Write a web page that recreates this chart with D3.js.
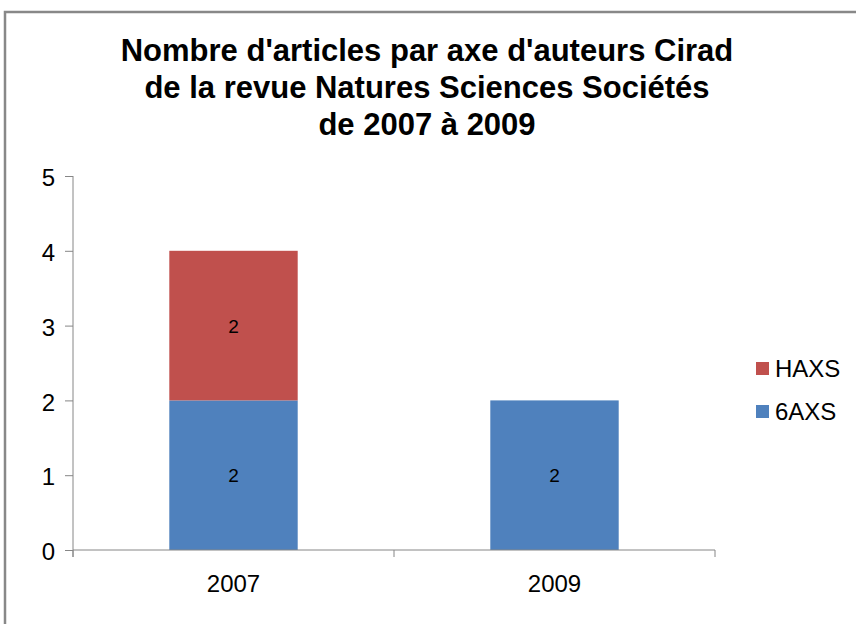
<!DOCTYPE html>
<html>
<head>
<meta charset="utf-8">
<script src="https://cdn.jsdelivr.net/npm/d3@7"></script>
<style>
  body { margin: 0; background: #fff; }
  svg { font-family: "Liberation Sans", Arial, sans-serif; }
</style>
</head>
<body>
<svg width="856" height="624"></svg>
<script>
const years = ["2007", "2009"];
const seriesNames = ["6AXS", "HAXS"];
const values6AXS = [2, 2];
const valuesHAXS = [2, 0];
const yTicks = [0, 1, 2, 3, 4, 5];
const titleLines = ["Nombre d'articles par axe d'auteurs Cirad", "de la revue Natures Sciences Sociétés", "de 2007 à 2009"];
const colors = { "6AXS": "#4F81BD", "HAXS": "#C0504D" };

const svg = d3.select("svg");
const font = "Liberation Sans, Arial, sans-serif";

// chart frame (runs past the window on the right and bottom)
svg.append("rect")
    .attr("x", 5).attr("y", 12)
    .attr("width", 900).attr("height", 700)
    .attr("fill", "#fff")
    .attr("stroke", "#888").attr("stroke-width", 2.5);

const table = years.map((y, i) => ({ year: y, "6AXS": values6AXS[i], "HAXS": valuesHAXS[i] }));
const stacked = d3.stack().keys(seriesNames)(table);

const x = d3.scaleBand().domain(years).range([73, 715]).paddingInner(0.6).paddingOuter(0.3);
const y = d3.scaleLinear().domain([0, 5]).range([550, 176]);

// title
svg.append("text")
    .attr("text-anchor", "middle")
    .attr("font-weight", "bold")
    .attr("font-size", 31)
    .attr("fill", "#000")
  .selectAll("tspan")
  .data(titleLines)
  .enter().append("tspan")
    .attr("x", 427)
    .attr("y", (d, i) => 61 + i * 37)
    .text(d => d);

// bars
const layers = svg.append("g").selectAll("g")
  .data(stacked)
  .enter().append("g")
    .attr("fill", d => colors[d.key]);

layers.selectAll("rect")
  .data(d => d.filter(s => s[1] - s[0] > 0))
  .enter().append("rect")
    .attr("x", d => x(d.data.year))
    .attr("y", d => y(d[1]))
    .attr("width", x.bandwidth())
    .attr("height", d => y(d[0]) - y(d[1]));

layers.selectAll("text")
  .data(d => d.filter(s => s[1] - s[0] > 0))
  .enter().append("text")
    .attr("x", d => x(d.data.year) + x.bandwidth() / 2)
    .attr("y", d => y((d[0] + d[1]) / 2) + 7)
    .attr("text-anchor", "middle")
    .attr("font-size", 19)
    .attr("fill", "#000")
    .text(d => d[1] - d[0]);

// y axis
const yAxis = svg.append("g")
    .attr("transform", "translate(73,0)")
    .call(d3.axisLeft(y).tickValues(yTicks).tickFormat(d3.format("d"))
      .tickSize(8).tickPadding(10).tickSizeOuter(0));
yAxis.select(".domain").attr("stroke", "#868686").attr("d", "M0,176V557");
yAxis.selectAll(".tick line").attr("stroke", "#868686");
yAxis.selectAll(".tick text").attr("font-size", 24).attr("fill", "#000")
    .attr("font-family", font).attr("dy", "0.4em");

// x axis
const xAxis = svg.append("g")
    .attr("transform", "translate(0,550)")
    .call(d3.axisBottom(x).tickSize(0).tickPadding(25));
xAxis.select(".domain").attr("stroke", "#868686").attr("d", "M73,0H715");
xAxis.selectAll(".tick text").attr("font-size", 24).attr("fill", "#000")
    .attr("font-family", font);
xAxis.selectAll(".sep")
  .data([x.range()[0], (x(years[0]) + x.bandwidth() + x(years[1])) / 2, x.range()[1]])
  .enter().append("line")
    .attr("class", "sep")
    .attr("x1", d => d).attr("x2", d => d)
    .attr("y1", 0).attr("y2", 7)
    .attr("stroke", "#868686");

// legend
const legendItems = ["HAXS", "6AXS"];
const legend = svg.append("g").selectAll("g")
  .data(legendItems)
  .enter().append("g")
    .attr("transform", (d, i) => `translate(756,${362 + i * 43})`);
legend.append("rect")
    .attr("width", 13).attr("height", 13)
    .attr("fill", d => colors[d]);
legend.append("text")
    .attr("x", 19).attr("y", 15)
    .attr("font-size", 24)
    .attr("fill", "#000")
    .text(d => d);
</script>
</body>
</html>
